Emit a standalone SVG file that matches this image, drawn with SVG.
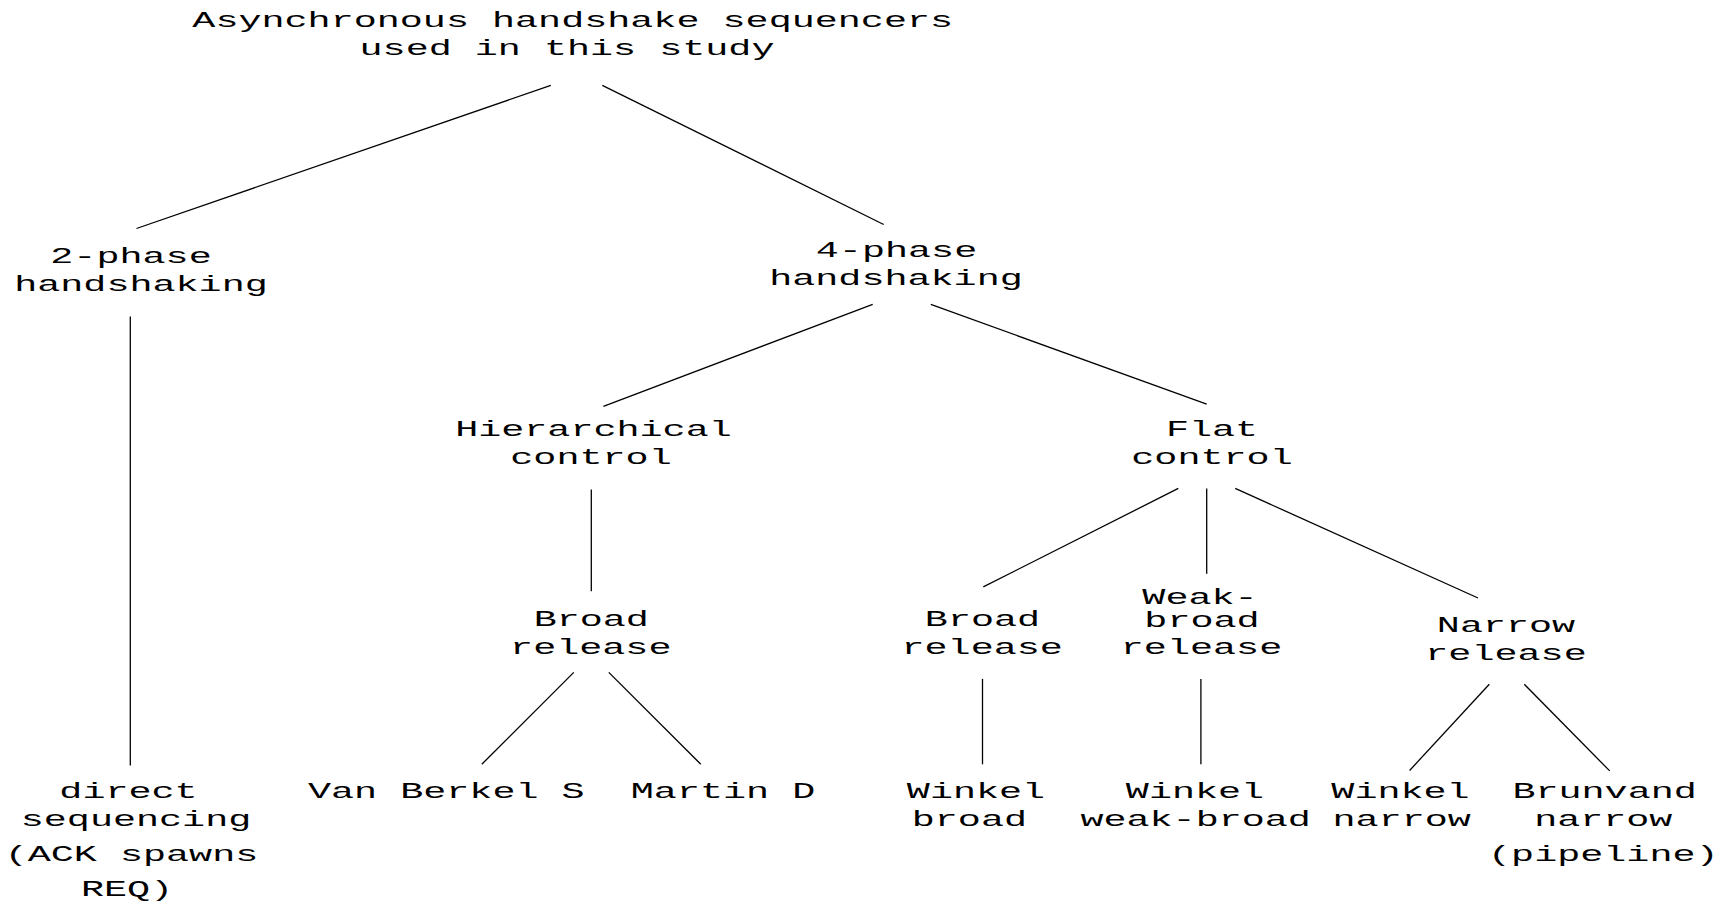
<svg xmlns="http://www.w3.org/2000/svg" width="1717" height="901" viewBox="0 0 1717 901">
<style>
text{font-family:"Liberation Mono","Courier New",monospace;font-size:22px;fill:#000;text-anchor:middle}
.e{stroke:#000;stroke-width:1.3;fill:none}
</style>
<rect width="1717" height="901" fill="#fff"/>
<g id="connectors">
<line class="e" x1="550.8" y1="85.4" x2="136.5" y2="228.5"/>
<line class="e" x1="602.3" y1="85.4" x2="883.7" y2="224.5"/>
<line class="e" x1="130.3" y1="316.5" x2="130.3" y2="765.4"/>
<line class="e" x1="872.7" y1="304.4" x2="603.4" y2="406.3"/>
<line class="e" x1="930.8" y1="304.4" x2="1206.7" y2="404.1"/>
<line class="e" x1="591.3" y1="489.5" x2="591.3" y2="591.3"/>
<line class="e" x1="1178.3" y1="488.4" x2="983.3" y2="586.9"/>
<line class="e" x1="1206.7" y1="488.4" x2="1206.7" y2="573.8"/>
<line class="e" x1="1235.2" y1="488.4" x2="1478" y2="598"/>
<line class="e" x1="573.8" y1="672.4" x2="481.8" y2="764.3"/>
<line class="e" x1="608.8" y1="672.4" x2="700.8" y2="764.3"/>
<line class="e" x1="982.5" y1="678.9" x2="982.5" y2="764.3"/>
<line class="e" x1="1200.9" y1="678.9" x2="1200.9" y2="764.3"/>
<line class="e" x1="1489.3" y1="684.3" x2="1409.6" y2="770.5"/>
<line class="e" x1="1524.3" y1="684.3" x2="1609.7" y2="770.9"/>
</g>
<g id="n_root">
<text x="572.7" y="27" textLength="760.7" lengthAdjust="spacingAndGlyphs">Asynchronous handshake sequencers</text>
<text x="567" y="55" textLength="414.9" lengthAdjust="spacingAndGlyphs">used in this study</text>
</g>
<g id="n_2phase">
<text x="131" y="262.5" textLength="161.4" lengthAdjust="spacingAndGlyphs">2-phase</text>
<text x="141" y="290.5" textLength="253.6" lengthAdjust="spacingAndGlyphs">handshaking</text>
</g>
<g id="n_4phase">
<text x="896.5" y="256.5" textLength="161.4" lengthAdjust="spacingAndGlyphs">4-phase</text>
<text x="896" y="285" textLength="253.6" lengthAdjust="spacingAndGlyphs">handshaking</text>
</g>
<g id="n_hier">
<text x="593.5" y="435.5" textLength="276.6" lengthAdjust="spacingAndGlyphs">Hierarchical</text>
<text x="591" y="464" textLength="161.4" lengthAdjust="spacingAndGlyphs">control</text>
</g>
<g id="n_flat">
<text x="1212" y="435.5" textLength="92.2" lengthAdjust="spacingAndGlyphs">Flat</text>
<text x="1212" y="464" textLength="161.4" lengthAdjust="spacingAndGlyphs">control</text>
</g>
<g id="n_broad_h">
<text x="591.3" y="625.7" textLength="115.3" lengthAdjust="spacingAndGlyphs">Broad</text>
<text x="590.8" y="654.2" textLength="161.4" lengthAdjust="spacingAndGlyphs">release</text>
</g>
<g id="n_broad_f">
<text x="982.5" y="625.7" textLength="115.3" lengthAdjust="spacingAndGlyphs">Broad</text>
<text x="982.2" y="654.2" textLength="161.4" lengthAdjust="spacingAndGlyphs">release</text>
</g>
<g id="n_weak">
<text x="1200" y="603.8" textLength="115.3" lengthAdjust="spacingAndGlyphs">Weak-</text>
<text x="1202" y="626.8" textLength="115.3" lengthAdjust="spacingAndGlyphs">broad</text>
<text x="1201.5" y="654.2" textLength="161.4" lengthAdjust="spacingAndGlyphs">release</text>
</g>
<g id="n_narrow">
<text x="1506" y="632.3" textLength="138.3" lengthAdjust="spacingAndGlyphs">Narrow</text>
<text x="1506" y="659.6" textLength="161.4" lengthAdjust="spacingAndGlyphs">release</text>
</g>
<g id="n_direct">
<text x="128.5" y="797.6" textLength="138.3" lengthAdjust="spacingAndGlyphs">direct</text>
<text x="136" y="826.1" textLength="230.5" lengthAdjust="spacingAndGlyphs">sequencing</text>
<text x="131.5" y="861.1" textLength="253.6" lengthAdjust="spacingAndGlyphs">(ACK spawns</text>
<text x="127" y="896.2" textLength="92.2" lengthAdjust="spacingAndGlyphs">REQ)</text>
</g>
<g id="n_vanberkel">
<text x="446.3" y="797.6" textLength="276.6" lengthAdjust="spacingAndGlyphs">Van Berkel S</text>
</g>
<g id="n_martin">
<text x="723" y="797.6" textLength="184.4" lengthAdjust="spacingAndGlyphs">Martin D</text>
</g>
<g id="n_winkel_broad">
<text x="976" y="797.6" textLength="138.3" lengthAdjust="spacingAndGlyphs">Winkel</text>
<text x="969.4" y="826.1" textLength="115.3" lengthAdjust="spacingAndGlyphs">broad</text>
</g>
<g id="n_winkel_weak">
<text x="1195" y="797.6" textLength="138.3" lengthAdjust="spacingAndGlyphs">Winkel</text>
<text x="1195.7" y="826.1" textLength="230.5" lengthAdjust="spacingAndGlyphs">weak-broad</text>
</g>
<g id="n_winkel_narrow">
<text x="1400.5" y="797.6" textLength="138.3" lengthAdjust="spacingAndGlyphs">Winkel</text>
<text x="1401.7" y="826.1" textLength="138.3" lengthAdjust="spacingAndGlyphs">narrow</text>
</g>
<g id="n_brunvand">
<text x="1604.6" y="797.6" textLength="184.4" lengthAdjust="spacingAndGlyphs">Brunvand</text>
<text x="1603.3" y="826.1" textLength="138.3" lengthAdjust="spacingAndGlyphs">narrow</text>
<text x="1603.3" y="861.1" textLength="230.5" lengthAdjust="spacingAndGlyphs">(pipeline)</text>
</g>
</svg>
